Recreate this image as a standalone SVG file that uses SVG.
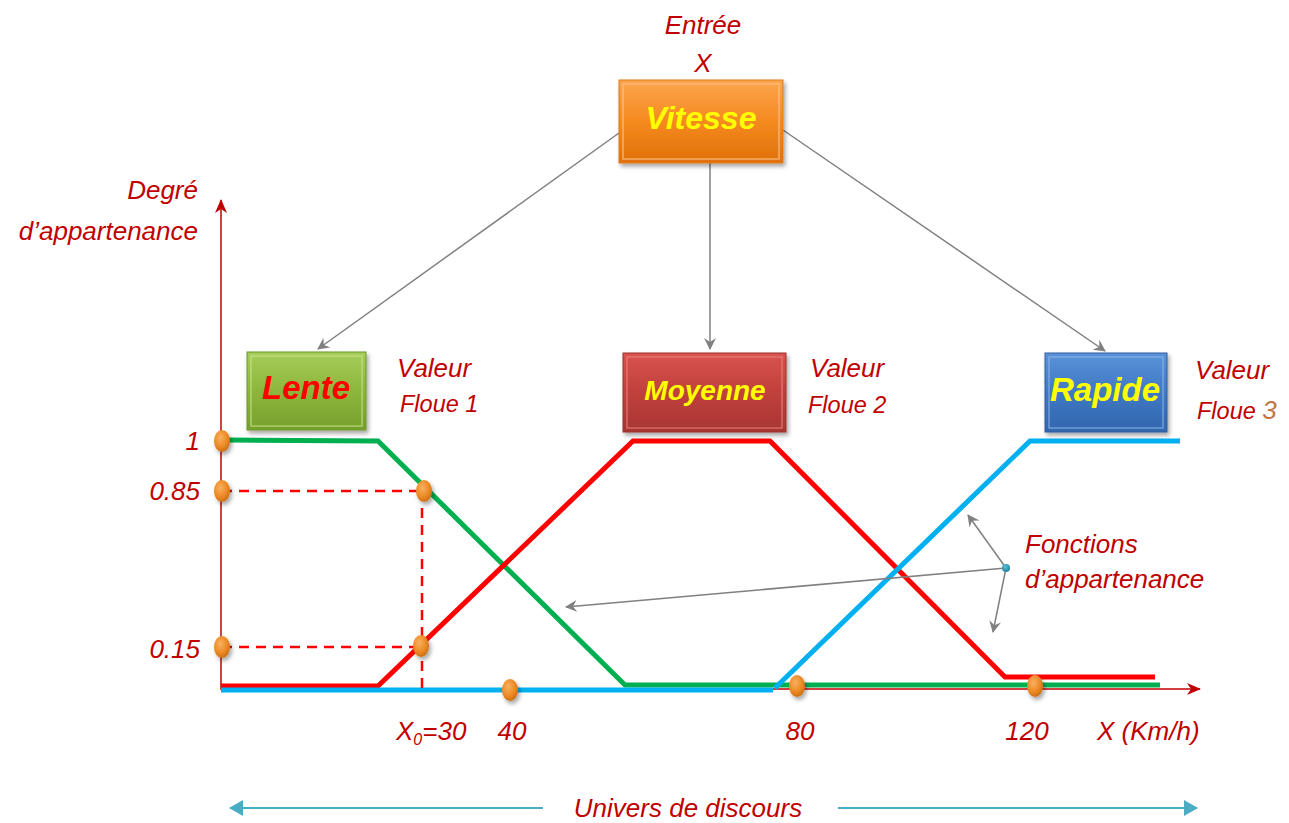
<svg xmlns="http://www.w3.org/2000/svg" width="1289" height="823" viewBox="0 0 1289 823">
  <style>
    .lbl { font-family: "Liberation Sans", sans-serif; font-style: italic; fill: #c00000; font-size: 26px; }
    .sm { font-size: 23.5px; }
    .box-txt { font-family: "Liberation Sans", sans-serif; font-style: italic; font-weight: bold; }
    .conn { stroke: #808080; stroke-width: 1.5; fill: none; marker-end: url(#gray-arrow); }
    .mf { fill: none; stroke-width: 5; stroke-linejoin: miter; }
    .dash { stroke: #ff0000; stroke-width: 2.5; stroke-dasharray: 10 7; fill: none; }
    .dot { fill: url(#dotGrad); filter: url(#shadow); }
  </style>
  <defs>
    <linearGradient id="gOrange" x1="0" y1="0" x2="0" y2="1">
      <stop offset="0" stop-color="#fba54e"/>
      <stop offset="0.5" stop-color="#f58a1f"/>
      <stop offset="1" stop-color="#e0700a"/>
    </linearGradient>
    <linearGradient id="gGreen" x1="0" y1="0" x2="0" y2="1">
      <stop offset="0" stop-color="#a7cd5a"/>
      <stop offset="0.5" stop-color="#8cb63c"/>
      <stop offset="1" stop-color="#76a02d"/>
    </linearGradient>
    <linearGradient id="gRed" x1="0" y1="0" x2="0" y2="1">
      <stop offset="0" stop-color="#d9534f"/>
      <stop offset="0.5" stop-color="#c0403c"/>
      <stop offset="1" stop-color="#a83532"/>
    </linearGradient>
    <linearGradient id="gBlue" x1="0" y1="0" x2="0" y2="1">
      <stop offset="0" stop-color="#5b93d8"/>
      <stop offset="0.5" stop-color="#3f78c4"/>
      <stop offset="1" stop-color="#3266ad"/>
    </linearGradient>
    <radialGradient id="dotGrad" cx="0.4" cy="0.35" r="0.7">
      <stop offset="0" stop-color="#f9b060"/>
      <stop offset="0.6" stop-color="#ec8a25"/>
      <stop offset="1" stop-color="#c86a10"/>
    </radialGradient>
    <radialGradient id="tealGrad" cx="0.4" cy="0.35" r="0.7">
      <stop offset="0" stop-color="#5fc0d8"/>
      <stop offset="1" stop-color="#1b7f9a"/>
    </radialGradient>
    <filter id="shadow" x="-30%" y="-30%" width="170%" height="170%">
      <feDropShadow dx="2" dy="3" stdDeviation="2" flood-color="#000" flood-opacity="0.35"/>
    </filter>
    <marker id="gray-arrow" viewBox="0 0 12 12" refX="11" refY="6" markerWidth="12" markerHeight="12" markerUnits="userSpaceOnUse" orient="auto">
      <path d="M0,0 L12,6 L0,12 L4,6 Z" fill="#808080"/>
    </marker>
    <marker id="red-arrow" viewBox="0 0 14 12" refX="13" refY="6" markerWidth="14" markerHeight="12" markerUnits="userSpaceOnUse" orient="auto">
      <path d="M0,0 L14,6 L0,12 L4,6 Z" fill="#c00000"/>
    </marker>
    <marker id="blue-arrow" viewBox="0 0 14 16" refX="13" refY="8" markerWidth="14" markerHeight="16" markerUnits="userSpaceOnUse" orient="auto-start-reverse">
      <path d="M0,0 L14,8 L0,16 Z" fill="#4bacc6"/>
    </marker>
  </defs>

  <!-- axes -->
  <g id="axes">
    <line x1="221" y1="690" x2="221" y2="200" stroke="#c00000" stroke-width="1.5" marker-end="url(#red-arrow)"/>
    <line x1="221" y1="689" x2="1200" y2="689" stroke="#c00000" stroke-width="1.5" marker-end="url(#red-arrow)"/>
  </g>

  <!-- membership functions -->
  <g id="membership">
    <polyline class="mf" stroke="#00b050" points="226,440 378,441 625,685 1160,685"/>
    <polyline class="mf" stroke="#ff0000" points="221,686 378,686 633,441 770,441 1005,677 1155,677"/>
    <polyline class="mf" stroke="#00b0f0" points="221,690 773,690"/>
    <polyline class="mf" stroke="#00b0f0" points="775,688 1030,441 1180,441"/>
  </g>

  <!-- projections of x0 -->
  <g id="projections">
    <line class="dash" x1="222" y1="491" x2="424" y2="491"/>
    <line class="dash" x1="222" y1="647" x2="421" y2="647"/>
    <line class="dash" x1="422" y1="491" x2="422" y2="690"/>
  </g>

  <!-- points -->
  <g id="points">
    <ellipse class="dot" cx="222" cy="441" rx="8" ry="11"/>
    <ellipse class="dot" cx="222" cy="491" rx="8" ry="11"/>
    <ellipse class="dot" cx="222" cy="647" rx="8" ry="11"/>
    <ellipse class="dot" cx="424" cy="491" rx="8" ry="11"/>
    <ellipse class="dot" cx="421" cy="646" rx="8" ry="11"/>
    <ellipse class="dot" cx="510" cy="690" rx="8" ry="11"/>
    <ellipse class="dot" cx="797" cy="686" rx="8" ry="11"/>
    <ellipse class="dot" cx="1035" cy="686" rx="8" ry="11"/>
  </g>

  <!-- connectors -->
  <g id="connectors">
    <line class="conn" x1="619" y1="133" x2="318" y2="349"/>
    <line class="conn" x1="710" y1="163" x2="710" y2="349"/>
    <line class="conn" x1="783" y1="130" x2="1105" y2="351"/>
    <line class="conn" x1="1006" y1="568" x2="968" y2="515"/>
    <line class="conn" x1="1006" y1="568" x2="993" y2="632"/>
    <line class="conn" x1="1006" y1="568" x2="566" y2="607"/>
  </g>
  <circle cx="1006" cy="568" r="4" fill="url(#tealGrad)"/>

  <!-- nodes -->
  <g id="vitesse">
    <rect x="619" y="80" width="164" height="83" fill="url(#gOrange)" stroke="#e07a1a" stroke-width="1" filter="url(#shadow)"/>
    <rect x="623" y="84" width="156" height="75" fill="none" stroke="#fcc58a" stroke-width="1.5" opacity="0.7"/>
    <text class="box-txt" x="701" y="129" font-size="32" fill="#ffff00" text-anchor="middle">Vitesse</text>
  </g>
  <g id="lente">
    <rect x="247" y="352" width="119" height="78" fill="url(#gGreen)" stroke="#6f972a" stroke-width="1" filter="url(#shadow)"/>
    <rect x="251" y="356" width="111" height="70" fill="none" stroke="#c4df8a" stroke-width="1.5" opacity="0.7"/>
    <text class="box-txt" x="306" y="399" font-size="33" fill="#ff0000" text-anchor="middle">Lente</text>
  </g>
  <g id="moyenne">
    <rect x="623" y="353" width="163" height="79" fill="url(#gRed)" stroke="#9c302d" stroke-width="1" filter="url(#shadow)"/>
    <rect x="627" y="357" width="155" height="71" fill="none" stroke="#e8817e" stroke-width="1.5" opacity="0.7"/>
    <text class="box-txt" x="705" y="400" font-size="28" fill="#ffff00" text-anchor="middle">Moyenne</text>
  </g>
  <g id="rapide">
    <rect x="1045" y="353" width="122" height="79" fill="url(#gBlue)" stroke="#2e5f9f" stroke-width="1" filter="url(#shadow)"/>
    <rect x="1049" y="357" width="114" height="71" fill="none" stroke="#8ab4e8" stroke-width="1.5" opacity="0.7"/>
    <text class="box-txt" x="1105" y="401" font-size="33" fill="#ffff00" text-anchor="middle">Rapide</text>
  </g>

  <!-- labels -->
  <g id="labels">
    <text class="lbl" x="703" y="34" text-anchor="middle">Entrée</text>
    <text class="lbl" x="703" y="72" text-anchor="middle">X</text>
    <text class="lbl" x="198" y="199" text-anchor="end">Degré</text>
    <text class="lbl" x="198" y="240" text-anchor="end">d’appartenance</text>

    <text class="lbl" x="397" y="377">Valeur</text>
    <text class="lbl sm" x="400" y="412">Floue 1</text>
    <text class="lbl" x="810" y="377">Valeur</text>
    <text class="lbl sm" x="808" y="413">Floue 2</text>
    <text class="lbl" x="1195" y="379">Valeur</text>
    <text class="lbl sm" x="1197" y="419">Floue <tspan fill="#c0784a" font-size="26">3</tspan></text>

    <text class="lbl" x="200" y="450" text-anchor="end">1</text>
    <text class="lbl" x="200" y="500" text-anchor="end">0.85</text>
    <text class="lbl" x="200" y="658" text-anchor="end">0.15</text>

    <text class="lbl" x="396" y="740">X<tspan font-size="16" dy="5">0</tspan><tspan dy="-5">=30</tspan></text>
    <text class="lbl" x="512" y="740" text-anchor="middle">40</text>
    <text class="lbl" x="800" y="740" text-anchor="middle">80</text>
    <text class="lbl" x="1027" y="740" text-anchor="middle">120</text>
    <text class="lbl" x="1097" y="740">X (Km/h)</text>

    <text class="lbl" x="1025" y="553">Fonctions</text>
    <text class="lbl" x="1025" y="588">d’appartenance</text>
  </g>

  <!-- universe of discourse -->
  <g id="univers">
    <line x1="543" y1="808" x2="230" y2="808" stroke="#4bacc6" stroke-width="2" marker-end="url(#blue-arrow)"/>
    <line x1="838" y1="808" x2="1197" y2="808" stroke="#4bacc6" stroke-width="2" marker-end="url(#blue-arrow)"/>
    <text class="lbl" x="688" y="817" text-anchor="middle">Univers de discours</text>
  </g>
</svg>
